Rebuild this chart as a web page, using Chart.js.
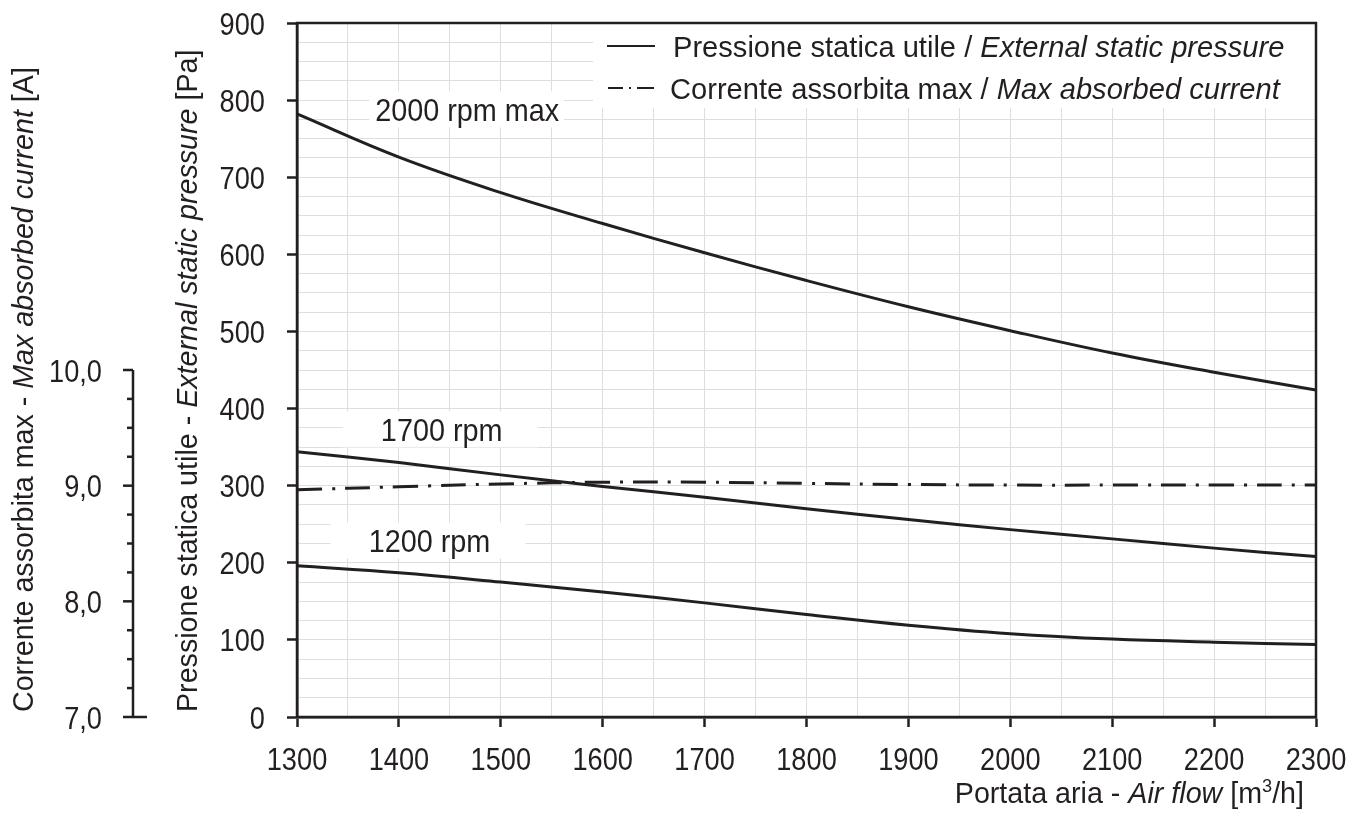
<!DOCTYPE html>
<html>
<head>
<meta charset="utf-8">
<script src="https://cdn.jsdelivr.net/npm/chart.js@4.4.1/dist/chart.umd.min.js"></script>
<style>
  html, body { margin: 0; padding: 0; background: #fff; }
  #wrap { width: 1366px; height: 820px; }
</style>
</head>
<body>
<div id="wrap"><canvas id="myChart" width="1366" height="820"></canvas></div>
<script>
// data
const flow = [1300, 1400, 1500, 1600, 1700, 1800, 1900, 2000, 2100, 2200, 2300];
const p2000 = [782, 726, 680, 640, 602, 566, 532, 501, 472, 447, 424];
const p1700 = [344, 330, 314, 299, 285, 270, 256, 243, 231, 219, 208];
const p1200 = [196, 187, 175, 162, 148, 133, 119, 108, 101, 97, 94];
const current = [8.965, 8.99, 9.015, 9.03, 9.03, 9.02, 9.01, 9.005, 9.005, 9.005, 9.005];
const currentTicks = [7, 8, 9, 10];

const INK = '#231f20';
const FONT = "'Liberation Sans', Arial, sans-serif";
const NUM_SX = 0.85;   // condensed look of the original lettering
const TXT_SX = 0.955;
const LEG_SX = 0.97;

function pts(values) {
    return flow.map(function (f, i) { return { x: f, y: values[i] }; });
}

function font(size, italic) {
    return (italic ? 'italic ' : '') + size + 'px ' + FONT;
}

// parts: [text, italic, superscript]
function richWidth(ctx, parts, size, sx) {
    let w = 0;
    parts.forEach(function (p) {
        ctx.font = font(p[2] ? Math.round(size * 0.62) : size, p[1]);
        w += ctx.measureText(p[0]).width;
    });
    return w * sx;
}
function drawRich(ctx, parts, size, x, y, sx) {
    ctx.save();
    ctx.translate(x, y);
    ctx.scale(sx, 1);
    ctx.textBaseline = 'alphabetic';
    ctx.textAlign = 'left';
    let cx = 0;
    parts.forEach(function (p) {
        ctx.font = font(p[2] ? Math.round(size * 0.62) : size, p[1]);
        ctx.fillText(p[0], cx, p[2] ? -size * 0.36 : 0);
        cx += ctx.measureText(p[0]).width;
    });
    ctx.restore();
}
function drawText(ctx, text, size, x, y, sx, align) {
    ctx.save();
    ctx.font = font(size, false);
    const w = ctx.measureText(text).width * sx;
    let left = x;
    if (align === 'center') left = x - w / 2;
    if (align === 'right') left = x - w;
    ctx.translate(left, y);
    ctx.scale(sx, 1);
    ctx.textAlign = 'left';
    ctx.textBaseline = 'alphabetic';
    ctx.fillText(text, 0, 0);
    ctx.restore();
}

const rpmLabels = [
    { text: '2000 rpm max', x: 1467, y: 788, boxX: 1466 },
    { text: '1700 rpm', x: 1442, y: 373, boxX: 1440 },
    { text: '1200 rpm', x: 1430, y: 229, boxX: 1428 }
];

const decor = {
    id: 'decor',
    beforeDatasetsDraw: function (chart) {
        const ctx = chart.ctx, xs = chart.scales.x, ys = chart.scales.y;
        const area = chart.chartArea;
        ctx.save();
        ctx.fillStyle = '#fff';
        // legend background
        ctx.fillRect(593, area.top, area.right - 593, 85);
        // label backgrounds
        rpmLabels.forEach(function (l) {
            ctx.fillRect(xs.getPixelForValue(l.boxX) - 97, ys.getPixelForValue(l.y) - 18, 195, 36);
        });
        ctx.restore();
    },
    afterDatasetsDraw: function (chart) {
        const ctx = chart.ctx, xs = chart.scales.x, ys = chart.scales.y, y2 = chart.scales.y2;
        const area = chart.chartArea;
        ctx.save();
        ctx.fillStyle = INK;
        ctx.strokeStyle = INK;

        // frame
        ctx.lineWidth = 2.5;
        ctx.strokeRect(area.left, area.top, area.right - area.left, area.bottom - area.top);

        // tick labels
        xs.ticks.forEach(function (t) {
            if (t.value % 100 === 0) drawText(ctx, String(t.value), 32, xs.getPixelForValue(t.value), 770, NUM_SX, 'center');
        });
        ys.ticks.forEach(function (t) {
            if (t.value % 100 === 0) drawText(ctx, String(t.value), 32, 265, ys.getPixelForValue(t.value) + 11.5, NUM_SX, 'right');
        });

        // rpm labels
        rpmLabels.forEach(function (l) {
            drawText(ctx, l.text, 32, xs.getPixelForValue(l.x), ys.getPixelForValue(l.y) + 12, 0.9, 'center');
        });

        // legend
        ctx.lineWidth = 2.2;
        ctx.setLineDash([]);
        ctx.beginPath(); ctx.moveTo(607, 46); ctx.lineTo(655, 46); ctx.stroke();
        ctx.setLineDash([15, 6, 2, 6, 17]);
        ctx.beginPath(); ctx.moveTo(608, 88); ctx.lineTo(655, 88); ctx.stroke();
        ctx.setLineDash([]);
        drawRich(ctx, [['Pressione statica utile / ', false], ['External static pressure', true]], 30, 673, 57, LEG_SX);
        drawRich(ctx, [['Corrente assorbita max / ', false], ['Max absorbed current', true]], 30, 670, 99, LEG_SX);

        // current axis on the far left
        const ax = 133;
        ctx.lineWidth = 2.5;
        ctx.beginPath();
        ctx.moveTo(ax, y2.getPixelForValue(10));
        ctx.lineTo(ax, y2.getPixelForValue(7));
        ctx.stroke();
        for (let v = 7; v <= 10.001; v += 0.25) {
            const py = y2.getPixelForValue(v);
            const major = Math.abs(v - Math.round(v)) < 0.01;
            ctx.beginPath();
            ctx.moveTo(major ? 123 : 127, py);
            ctx.lineTo(v < 7.01 ? 147 : ax, py);
            ctx.stroke();
        }
        currentTicks.forEach(function (v) {
            drawText(ctx, v.toFixed(1).replace('.', ','), 32, 102, y2.getPixelForValue(v) + 11.5, NUM_SX, 'right');
        });

        // axis titles
        const t1 = [['Corrente assorbita max - ', false], ['Max absorbed current', true], [' [A]', false]];
        const t2 = [['Pressione statica utile - ', false], ['External static pressure', true], [' [Pa]', false]];
        ctx.save();
        ctx.translate(33, 712);
        ctx.rotate(-Math.PI / 2);
        drawRich(ctx, t1, 30, 0, 0, TXT_SX);
        ctx.restore();
        ctx.save();
        ctx.translate(197, 712);
        ctx.rotate(-Math.PI / 2);
        drawRich(ctx, t2, 30, 0, 0, TXT_SX);
        ctx.restore();

        const t3 = [['Portata aria - ', false], ['Air flow', true], [' [m', false], ['3', false, true], ['/h]', false]];
        drawRich(ctx, t3, 30, 1304 - richWidth(ctx, t3, 30, TXT_SX), 803, TXT_SX);

        ctx.restore();
    }
};

const ctx = document.getElementById('myChart');

new Chart(ctx, {
    type: 'line',
    data: {
        datasets: [
            { label: '2000 rpm max', data: pts(p2000), yAxisID: 'y' },
            { label: '1700 rpm', data: pts(p1700), yAxisID: 'y' },
            { label: '1200 rpm', data: pts(p1200), yAxisID: 'y' },
            { label: 'Corrente assorbita max', data: pts(current), yAxisID: 'y2', borderDash: [25, 10, 3, 10] }
        ]
    },
    options: {
        responsive: false,
        animation: false,
        layout: { padding: { left: 200, right: 50, top: 23, bottom: 0 } },
        elements: {
            line: { borderColor: INK, borderWidth: 3, tension: 0.4, fill: false },
            point: { radius: 0, hoverRadius: 0 }
        },
        plugins: {
            legend: { display: false },
            tooltip: { enabled: false }
        },
        scales: {
            x: {
                type: 'linear',
                min: 1300,
                max: 2300,
                afterFit: function (scale) { scale.height = 103; },
                ticks: {
                    stepSize: 50,
                    autoSkip: false,
                    maxRotation: 0,
                    callback: function () { return ''; }
                },
                grid: {
                    color: '#dedede',
                    lineWidth: 1,
                    tickLength: 10,
                    tickWidth: 2.5,
                    tickColor: function (c) { return c.tick && c.tick.value % 100 === 0 ? INK : 'rgba(0,0,0,0)'; }
                },
                border: { color: INK, width: 2.5 }
            },
            y: {
                min: 0,
                max: 900,
                afterFit: function (scale) { scale.width = 97; },
                ticks: {
                    stepSize: 25,
                    autoSkip: false,
                    callback: function () { return ''; }
                },
                grid: {
                    color: '#dedede',
                    lineWidth: 1,
                    tickLength: 10,
                    tickWidth: 2.5,
                    tickColor: function (c) { return c.tick && c.tick.value % 100 === 0 ? INK : 'rgba(0,0,0,0)'; }
                },
                border: { color: INK, width: 2.5 }
            },
            y2: {
                display: false,
                min: 7,
                max: 13
            }
        }
    },
    plugins: [decor]
});
</script>
</body>
</html>
